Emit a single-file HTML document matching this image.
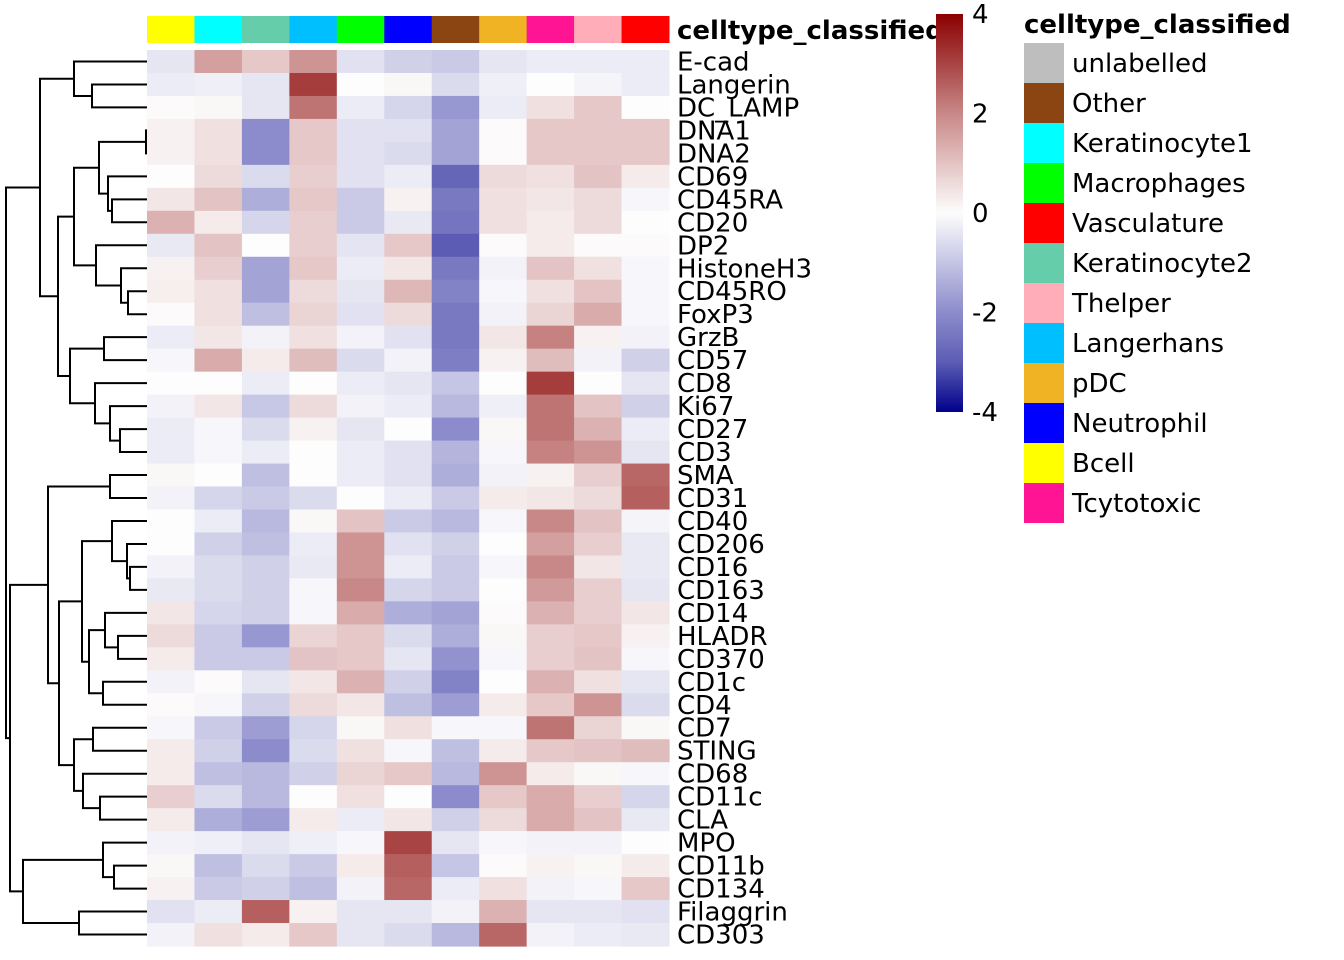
<!DOCTYPE html>
<html><head><meta charset="utf-8"><style>
html,body{margin:0;padding:0;background:#fff;}
svg{display:block;font-family:"DejaVu Sans","Liberation Sans",sans-serif;}
</style></head><body>
<svg id="chart" width="1344" height="960"></svg>
<script>
const rowLabels=["E-cad","Langerin","DC_LAMP","DNA1","DNA2","CD69","CD45RA","CD20","DP2","HistoneH3","CD45RO","FoxP3","GrzB","CD57","CD8","Ki67","CD27","CD3","SMA","CD31","CD40","CD206","CD16","CD163","CD14","HLADR","CD370","CD1c","CD4","CD7","STING","CD68","CD11c","CLA","MPO","CD11b","CD134","Filaggrin","CD303"];
const colLabels=["Bcell","Keratinocyte1","Keratinocyte2","Langerhans","Macrophages","Neutrophil","Other","pDC","Tcytotoxic","Thelper","Vasculature"];
const values=[
[-0.4,1.6,0.9,1.8,-0.5,-0.8,-0.9,-0.4,-0.3,-0.3,-0.3],
[-0.3,-0.25,-0.4,3.1,0,0.1,-0.6,-0.25,0,-0.15,-0.3],
[0.05,0.1,-0.4,2.3,-0.3,-0.7,-1.8,-0.3,0.5,0.9,0],
[0.2,0.5,-2.0,0.9,-0.5,-0.5,-1.6,0.05,0.9,0.9,0.9],
[0.2,0.5,-2.0,0.9,-0.5,-0.6,-1.6,0.05,0.9,0.9,0.9],
[0,0.6,-0.6,0.8,-0.5,-0.3,-2.8,0.6,0.5,1.0,0.3],
[0.4,1.0,-1.4,0.9,-0.9,0.2,-2.4,0.5,0.4,0.6,-0.1],
[1.3,0.3,-0.7,0.8,-0.9,-0.35,-2.5,0.5,0.3,0.6,0],
[-0.35,1.0,0,0.8,-0.45,0.9,-3.0,0.05,0.3,0.05,0.05],
[0.2,0.8,-1.6,0.9,-0.3,0.4,-2.4,-0.2,1.0,0.5,-0.1],
[0.25,0.5,-1.6,0.6,-0.4,1.2,-2.2,-0.1,0.5,1.0,-0.1],
[0.05,0.5,-1.1,0.7,-0.5,0.6,-2.4,-0.2,0.7,1.4,-0.1],
[-0.3,0.4,-0.2,0.5,-0.2,-0.5,-2.4,0.4,2.1,0.2,-0.2],
[-0.1,1.4,0.3,1.1,-0.6,-0.2,-2.3,0.2,1.1,-0.2,-0.8],
[0,0,-0.3,0,-0.3,-0.4,-1.0,0,3.1,0,-0.4],
[-0.2,0.4,-0.95,0.6,-0.2,-0.3,-1.2,-0.25,2.3,1.0,-0.8],
[-0.3,-0.1,-0.6,0.2,-0.4,0,-2.0,0.1,2.3,1.3,-0.3],
[-0.3,-0.1,-0.3,0,-0.3,-0.5,-1.3,-0.1,2.1,1.8,-0.4],
[0.1,0,-1.1,0,-0.3,-0.5,-1.4,-0.2,0.2,0.8,2.5],
[-0.2,-0.7,-0.9,-0.6,0,-0.3,-0.9,0.3,0.4,0.6,2.6],
[0,-0.3,-1.2,0.1,1.0,-0.9,-1.2,-0.1,2.0,1.0,-0.15],
[0,-0.8,-1.1,-0.3,1.8,-0.5,-0.8,0,1.6,0.8,-0.35],
[-0.2,-0.6,-0.8,-0.35,1.8,-0.3,-0.9,-0.1,2.0,0.4,-0.35],
[-0.35,-0.6,-0.8,-0.1,2.0,-0.7,-0.9,0,1.7,0.8,-0.4],
[0.4,-0.7,-0.8,-0.1,1.4,-1.4,-1.6,0.05,1.3,0.8,0.4],
[0.6,-0.9,-1.8,0.7,0.9,-0.6,-1.4,0.1,0.8,0.9,0.2],
[0.3,-0.9,-0.9,1.0,0.9,-0.4,-1.9,-0.1,0.8,1.0,-0.1],
[-0.2,0.05,-0.4,0.4,1.3,-0.8,-2.2,0,1.3,0.5,-0.4],
[0.05,-0.1,-0.8,0.6,0.4,-1.1,-1.7,0.3,0.9,1.8,-0.6],
[-0.1,-0.9,-1.7,-0.7,0.1,0.5,-0.1,-0.1,2.3,0.7,0.1],
[0.3,-0.8,-2.0,-0.6,0.5,-0.1,-1.1,0.3,0.9,1.0,1.1],
[0.3,-1.1,-1.2,-0.8,0.7,0.9,-1.2,1.8,0.3,0.1,-0.1],
[0.8,-0.6,-1.2,0,0.5,0,-2.0,0.9,1.4,0.8,-0.7],
[0.3,-1.4,-1.7,0.3,-0.3,0.4,-0.8,0.6,1.4,1.0,-0.35],
[-0.2,-0.25,-0.4,-0.25,-0.1,3.0,-0.4,-0.1,-0.2,-0.2,0],
[0.1,-1.1,-0.6,-0.9,0.3,2.6,-1.0,0.05,0.2,0.1,0.3],
[0.2,-0.9,-0.8,-1.1,-0.2,2.5,-0.3,0.5,-0.2,-0.1,0.9],
[-0.5,-0.3,2.6,0.2,-0.4,-0.4,-0.2,1.3,-0.4,-0.4,-0.5],
[-0.2,0.5,0.3,0.9,-0.4,-0.6,-1.2,2.5,-0.2,-0.3,-0.35]];
const colColors=["#ffff00","#00ffff","#66cdaa","#00bfff","#00ff00","#0000ff","#8b4513","#f0b323","#ff1493","#ffaeb9","#ff0000"];
const legendLabels=["unlabelled","Other","Keratinocyte1","Macrophages","Vasculature","Keratinocyte2","Thelper","Langerhans","pDC","Neutrophil","Bcell","Tcytotoxic"];
const legendColors=["#bebebe","#8b4513","#00ffff","#00ff00","#ff0000","#66cdaa","#ffaeb9","#00bfff","#f0b323","#0000ff","#ffff00","#ff1493"];
const scaleTicks=[4,2,0,-2,-4];
const merges=[[1,2,92],[0,"n0",74],[3,4,146],[6,7,112],[5,"n3",108],["n2","n4",99],[10,11,128],[9,"n6",121],[8,"n7",96],["n5","n8",74],[12,13,104],[16,17,120],[15,"n11",110],[14,"n12",95],["n10","n13",70],["n9","n14",58],["n1","n15",40],
[18,19,110],[22,23,130],[21,"n18",127],[20,"n19",112],[25,26,118],[24,"n21",105],[27,28,103],["n22","n23",89],["n20","n24",82],[29,30,93],[32,33,100],[31,"n27",83],["n26","n28",74],["n25","n29",59],["n17","n30",48],[35,36,114],[34,"n32",103],[37,38,79],["n33","n34",23],["n31","n35",10],["n16","n36",6]];

const NS="http://www.w3.org/2000/svg";
const svg=document.getElementById('chart');
function mk(tag,attrs,parent){const e=document.createElementNS(NS,tag);for(const k in attrs)e.setAttribute(k,attrs[k]);(parent||svg).appendChild(e);return e;}
const X0=147,X1=669,Y0=50,Y1=946,FS=26;
const cw=(X1-X0)/colLabels.length, rh=(Y1-Y0)/rowLabels.length;
const xPos=j=>X0+j*cw, yPos=i=>Y0+i*rh;
const stops=[[-4,[0,0,139]],[-3,[92,92,180]],[-2,[140,140,204]],[0,[253,253,253]],[2,[201,136,136]],[3,[168,68,68]],[4,[139,0,0]]];
function col(v){v=Math.max(-4,Math.min(4,v));for(let k=0;k<stops.length-1;k++){const[a,ca]=stops[k],[b,cb]=stops[k+1];if(v<=b){const t=(v-a)/(b-a);return'rgb('+ca.map((c,i)=>Math.round(c+(cb[i]-c)*t)).join(',')+')';}}return'rgb(139,0,0)';}

const ann=mk('g',{});
colLabels.forEach((c,j)=>{const r=mk('rect',{x:xPos(j),y:16,width:cw+0.5,height:27,fill:colColors[j]},ann);

});
const at=mk('text',{x:677,y:39,'font-size':FS,'font-weight':'bold',fill:'#000'});at.textContent='celltype_classified';



const cells=mk('g',{});
values.forEach((row,i)=>row.forEach((v,j)=>{const r=mk('rect',{x:xPos(j),y:yPos(i),width:cw+0.6,height:rh+0.6,fill:col(v)},cells);

}));
rowLabels.forEach((l,i)=>{const t=mk('text',{x:677,y:yPos(i)+rh/2+9,'font-size':FS,fill:'#000'});t.textContent=l;

});

const dg=mk('g',{stroke:'#000','stroke-width':2,fill:'none'});
const nodes={};
function pos(n){if(typeof n==='number')return{y:yPos(n)+rh/2,x:X0};return nodes[n];}
merges.forEach((m,k)=>{const a=pos(m[0]),b=pos(m[1]),h=m[2];
mk('path',{d:`M${a.x},${a.y}H${h}V${b.y}H${b.x}`},dg);
nodes['n'+k]={x:h,y:(a.y+b.y)/2};});

const defs=mk('defs',{});const g=mk('linearGradient',{id:'cb',x1:0,y1:0,x2:0,y2:1},defs);
for(let k=0;k<=16;k++){const v=4-k*0.5;mk('stop',{offset:(k/16),'stop-color':col(v)},g);}
const cbTop=14,cbBot=412;
const cb=mk('rect',{x:936,y:cbTop,width:27,height:cbBot-cbTop,fill:'url(#cb)'});


scaleTicks.forEach(v=>{const y=cbTop+(4-v)/8*(cbBot-cbTop);const t=mk('text',{x:972,y:y+9,'font-size':FS,fill:'#000'});t.textContent=String(v);

});

const lt=mk('text',{x:1024,y:33,'font-size':FS,'font-weight':'bold',fill:'#000'});lt.textContent='celltype_classified';


legendLabels.forEach((l,k)=>{const y=43+k*40;
const s=mk('rect',{x:1024,y:y,width:40,height:40,fill:legendColors[k]});


const t=mk('text',{x:1072,y:y+29,'font-size':FS,fill:'#000'});t.textContent=l;

});
</script>
</body></html>
